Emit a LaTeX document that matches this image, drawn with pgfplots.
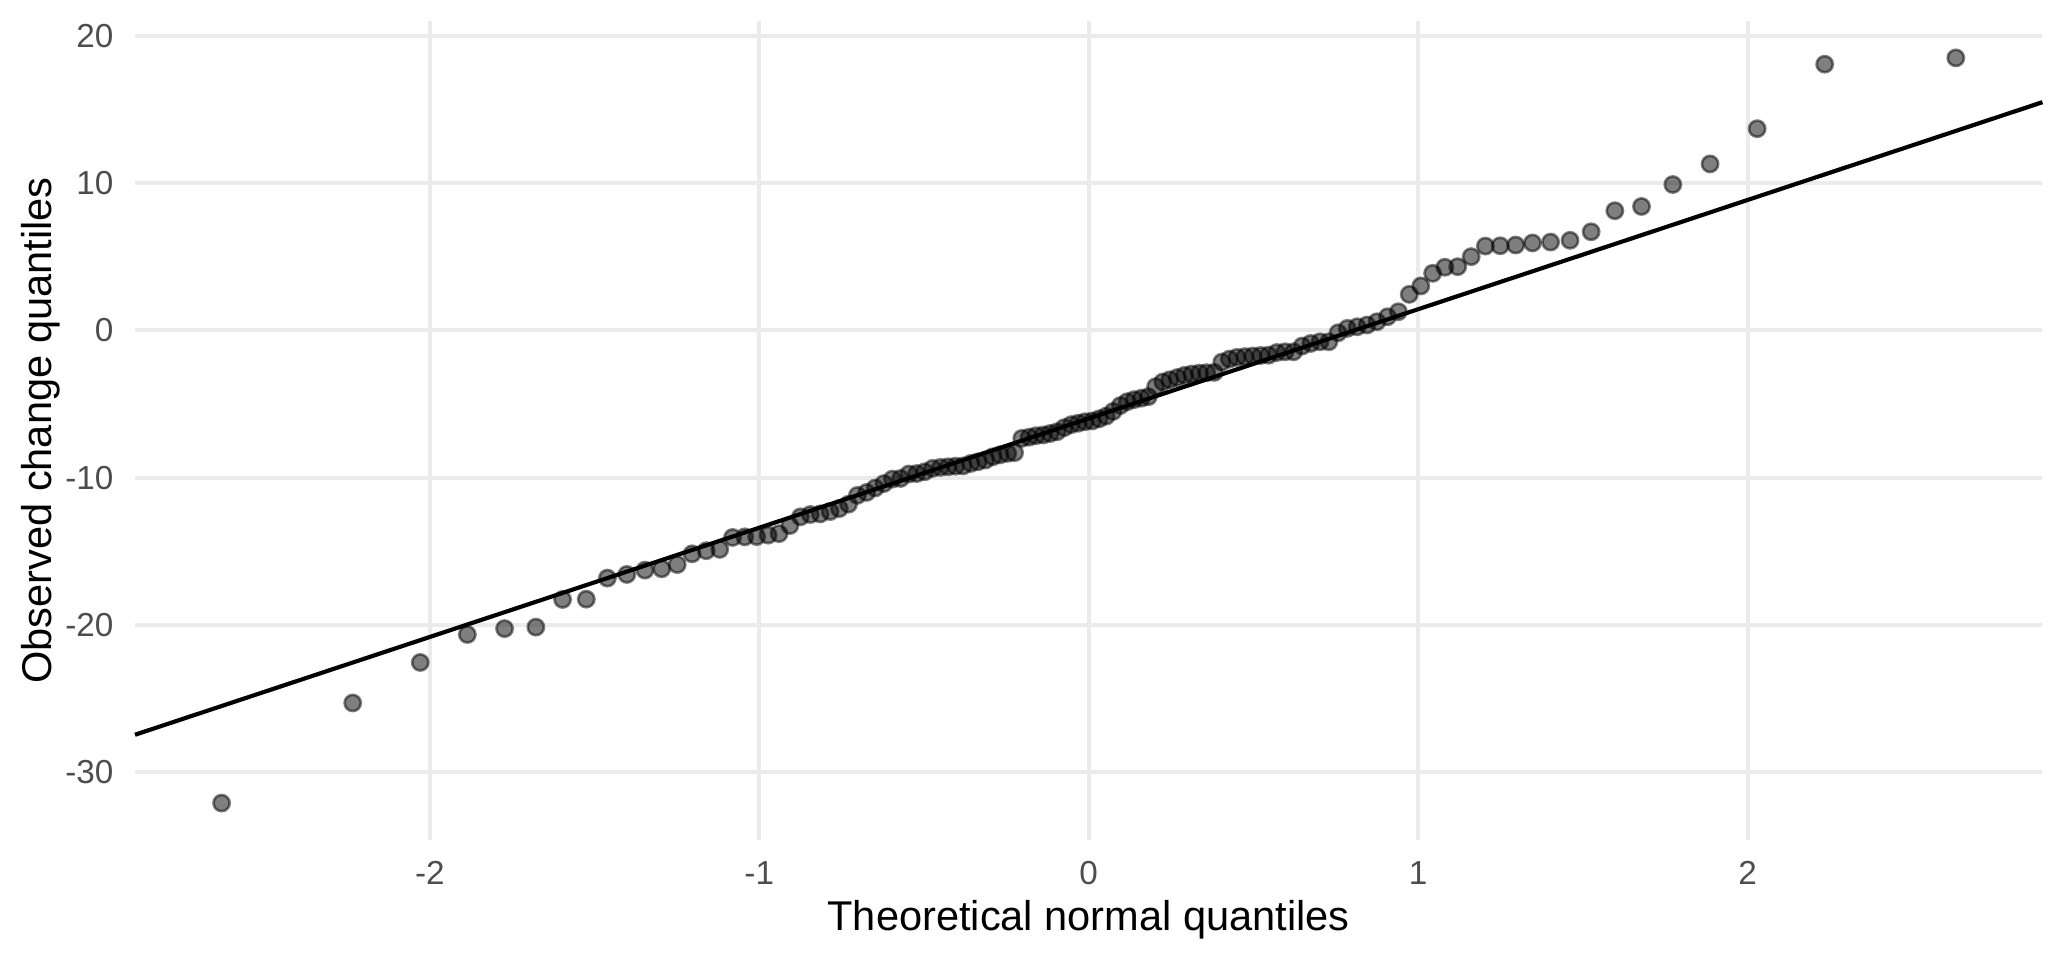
\documentclass[border=0pt]{standalone}
\usepackage{pgfplots}
\pgfplotsset{compat=1.18}
\usepackage{fontspec}
\setmainfont{Liberation Sans}

\definecolor{gridgrey}{HTML}{EBEBEB}
\definecolor{ticktext}{HTML}{4D4D4D}

% sorted sample (y) against theoretical normal quantiles (x), n = 118
\pgfplotstableread{
x y
-2.632 -32.10
-2.234 -25.30
-2.029 -22.55
-1.886 -20.65
-1.773 -20.25
-1.678 -20.15
-1.597 -18.27
-1.525 -18.25
-1.461 -16.82
-1.402 -16.57
-1.347 -16.28
-1.296 -16.19
-1.249 -15.90
-1.204 -15.17
-1.161 -14.96
-1.120 -14.87
-1.081 -14.06
-1.044 -14.02
-1.008 -14.00
-0.973 -13.90
-0.940 -13.80
-0.907 -13.25
-0.875 -12.66
-0.845 -12.50
-0.815 -12.46
-0.785 -12.30
-0.757 -12.10
-0.729 -11.80
-0.702 -11.20
-0.674 -11.00
-0.648 -10.70
-0.622 -10.40
-0.596 -10.10
-0.571 -10.05
-0.546 -9.75
-0.522 -9.72
-0.498 -9.60
-0.474 -9.37
-0.450 -9.30
-0.427 -9.26
-0.404 -9.22
-0.381 -9.20
-0.358 -9.03
-0.336 -8.92
-0.313 -8.80
-0.291 -8.58
-0.269 -8.45
-0.246 -8.35
-0.225 -8.30
-0.203 -7.33
-0.181 -7.25
-0.160 -7.15
-0.138 -7.10
-0.117 -7.00
-0.096 -6.88
-0.074 -6.60
-0.053 -6.40
-0.032 -6.30
-0.011 -6.20
0.011 -6.15
0.032 -6.00
0.053 -5.82
0.074 -5.50
0.096 -5.10
0.117 -4.84
0.138 -4.70
0.160 -4.60
0.181 -4.50
0.203 -3.82
0.225 -3.50
0.246 -3.35
0.269 -3.20
0.291 -3.05
0.313 -2.96
0.336 -2.90
0.358 -2.87
0.381 -2.85
0.404 -2.15
0.427 -1.95
0.450 -1.83
0.474 -1.78
0.498 -1.74
0.522 -1.70
0.546 -1.68
0.571 -1.50
0.596 -1.45
0.622 -1.45
0.648 -1.06
0.674 -0.88
0.702 -0.77
0.729 -0.77
0.757 -0.16
0.785 0.14
0.815 0.25
0.845 0.37
0.875 0.59
0.907 0.93
0.940 1.27
0.973 2.45
1.008 3.02
1.044 3.88
1.081 4.29
1.120 4.33
1.161 5.01
1.204 5.73
1.249 5.75
1.296 5.80
1.347 5.94
1.402 6.00
1.461 6.12
1.525 6.70
1.597 8.13
1.678 8.42
1.773 9.91
1.886 11.31
2.029 13.70
2.234 18.08
2.632 18.51
}\qqdata

\begin{document}
\begin{tikzpicture}
\path[use as bounding box] (-35.7pt,-31.7pt) rectangle (510.3pt,222.3pt);
\begin{axis}[
  at={(0,0)}, anchor=south west,
  scale only axis,
  width=504.6pt, height=216.8pt,
  xmin=-2.895, xmax=2.895,
  ymin=-34.63, ymax=21.03,
  xtick={-2,-1,0,1,2},
  xticklabels={-2,-1,0,1,2},
  ytick={-30,-20,-10,0,10,20},
  yticklabels={-30,-20,-10,0,10,20},
  xmajorgrids, ymajorgrids,
  grid style={gridgrey, line width=1.07pt},
  axis line style={draw=none},
  tick style={draw=none},
  major tick length=0pt,
  ticklabel style={font=\fontsize{8.8}{10}\selectfont, text=ticktext, inner sep=0pt},
  xticklabel style={anchor=north, yshift=-5.4pt},
  yticklabel style={anchor=east, xshift=-5.5pt},
  xlabel={Theoretical normal quantiles},
  ylabel={Observed change quantiles},
  label style={font=\fontsize{11}{13}\selectfont, inner sep=0pt},
  xlabel style={at={(axis description cs:0.5,-0.0729)}, anchor=north},
  ylabel style={at={(axis description cs:-0.0602,0.5)}, anchor=north},
  clip=false,
]
\addplot[only marks, mark=*, mark size=2.15pt,
  mark options={draw=black, fill=black, draw opacity=0.5, fill opacity=0.5, line width=0.7pt}]
  table[x=x, y=y] {\qqdata};
% qq line through the quartiles
\addplot[black, line width=1.1pt] coordinates {(-2.895,-27.46) (2.895,15.50)};
\end{axis}
\end{tikzpicture}
\end{document}
